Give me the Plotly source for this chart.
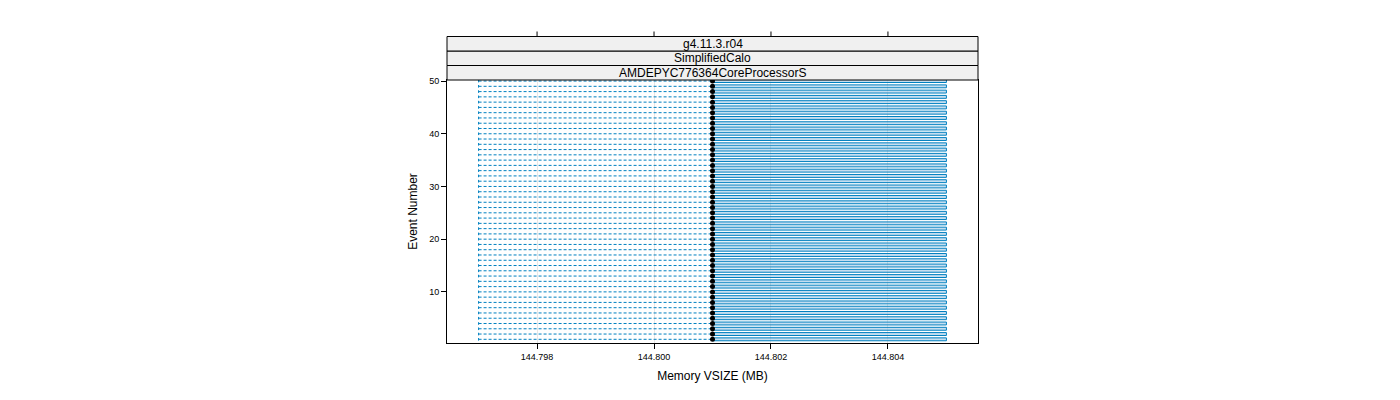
import plotly.graph_objects as go

events = list(range(1, 51))
vmin = [144.797] * 50
q1 = [144.801] * 50
median = [144.801] * 50
q3 = [144.805] * 50
strips = ["AMDEPYC776364CoreProcessorS", "SimplifiedCalo", "g4.11.3.r04"]
xticks = [144.798, 144.800, 144.802, 144.804]
yticks = [10, 20, 30, 40, 50]

fig = go.Figure()

# boxes (q1 -> q3)
fig.add_trace(go.Bar(
    y=events, x=[b - a for a, b in zip(q1, q3)], base=q1, orientation="h",
    width=0.55, marker=dict(color="rgba(160,200,230,0.6)", line=dict(color="#0080c0", width=1)),
    hoverinfo="skip"))

# dashed lower whiskers
wx, wy = [], []
for e, lo, a in zip(events, vmin, q1):
    wx += [lo, a, None]
    wy += [e, e, None]
    wx += [lo, lo, None]
    wy += [e - 0.25, e + 0.25, None]
fig.add_trace(go.Scatter(x=wx, y=wy, mode="lines",
                         line=dict(color="#0080c0", width=1, dash="3px,2px")))

# medians
fig.add_trace(go.Scatter(x=median, y=events, mode="markers",
                         marker=dict(color="black", size=5)))

# body margin of the page shifts the figure by 8px
L, R, T, B = 447 - 8, 978 - 8, 80 - 8, 343 - 8
W, H = 1400, 400

# strips
sh = 14.5 / (B - T)
for i, s in enumerate(strips):
    y0 = 1 + i * sh
    fig.add_shape(type="rect", xref="paper", yref="paper", x0=0, x1=1, y0=y0, y1=y0 + sh,
                  fillcolor="#f0f0f0", line=dict(color="black", width=1))
    fig.add_annotation(xref="paper", yref="paper", x=0.5, y=y0 + sh / 2, text=s,
                       yanchor="middle", xanchor="center",
                       showarrow=False, font=dict(size=12, color="black"))

# top ticks
ytop = 1 + 3 * sh
for t in xticks:
    fig.add_shape(type="line", xref="x", yref="paper", x0=t, x1=t, y0=ytop,
                  y1=ytop + 5 / (B - T), line=dict(color="black", width=1))

fig.update_layout(
    width=W, height=H, plot_bgcolor="white", paper_bgcolor="white",
    margin=dict(l=L, r=W - R, t=T, b=H - B), showlegend=False,
    font=dict(family="Liberation Sans, Arial", color="black"),
    xaxis=dict(range=[144.79646, 144.80554], tickvals=xticks, ticktext=[f"{t:.3f}" for t in xticks],
               ticks="outside", ticklen=5, tickcolor="black", tickfont=dict(size=9),
               showgrid=True, gridcolor="#e6e6e6", zeroline=False,
               showline=True, linecolor="black", mirror=True,
               title=dict(text="Memory VSIZE (MB)", font=dict(size=12), standoff=10)),
    yaxis=dict(range=[0.3, 50.2], tickvals=yticks, ticks="outside", ticklen=5, tickcolor="black",
               tickfont=dict(size=9), showgrid=False, zeroline=False,
               showline=True, linecolor="black", mirror=True,
               title=dict(text="Event Number", font=dict(size=12), standoff=8)),
)

fig.write_html("out.html")
